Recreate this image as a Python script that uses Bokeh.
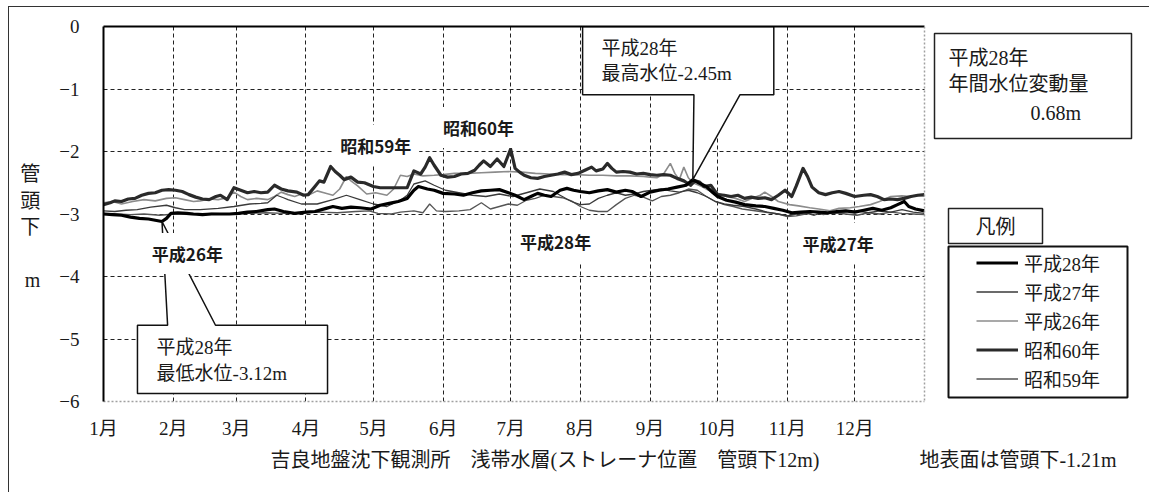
from bokeh.plotting import figure
from bokeh.models import (Label, BoxAnnotation, Span, FixedTicker, Legend,
                          LegendItem, Range1d, LinearAxis, Title)
from bokeh.embed import file_html
from bokeh.resources import INLINE

# ---------------- data ----------------
MONTH_START_DAYS = [0, 31, 59, 90, 120, 151, 181, 212, 243, 273, 304, 334]
MONTH_LABELS = ["1月", "2月", "3月", "4月", "5月", "6月", "7月", "8月",
                "9月", "10月", "11月", "12月"]
DEPTH_TICKS = [0, -1, -2, -3, -4, -5, -6]
DEPTH_TICK_LABELS = ["0", "−1", "−2", "−3", "−4", "−5", "−6"]
YEAR_DAYS = 365

# 平成28年
H28_DAYS = [0, 4, 8, 12, 16, 20, 23, 26, 28, 30,
            33, 37, 40, 44, 48, 52, 56, 60, 64, 68,
            73, 76, 80, 85, 90, 94, 99, 102, 106, 110,
            114, 119, 123, 127, 131, 135, 138, 140, 144, 147,
            151, 156, 160, 164, 168, 172, 176, 180, 183, 187,
            190, 193, 196, 199, 203, 206, 209, 212, 216, 220,
            224, 228, 232, 235, 239, 243, 247, 251, 255, 259,
            262, 265, 268, 271, 273, 277, 281, 285, 290, 294,
            298, 302, 306, 310, 314, 318, 322, 326, 330, 334,
            338, 342, 346, 350, 353, 356, 358, 361, 365]
H28_LEVEL = [-3.00, -3.01, -3.02, -3.05, -3.07, -3.08, -3.10, -3.12, -3.07, -2.99,
             -2.98, -2.99, -3.00, -3.01, -3.00, -3.00, -3.00, -2.99, -2.97, -2.96,
             -2.93, -2.92, -2.96, -2.99, -2.97, -2.96, -2.91, -2.88, -2.91, -2.89,
             -2.90, -2.92, -2.86, -2.83, -2.80, -2.75, -2.62, -2.56, -2.60, -2.62,
             -2.67, -2.68, -2.70, -2.66, -2.63, -2.62, -2.61, -2.66, -2.70, -2.77,
             -2.72, -2.67, -2.70, -2.72, -2.62, -2.59, -2.62, -2.64, -2.66, -2.63,
             -2.61, -2.65, -2.62, -2.64, -2.72, -2.65, -2.62, -2.60, -2.57, -2.54,
             -2.45, -2.51, -2.56, -2.66, -2.72, -2.78, -2.81, -2.85, -2.87, -2.88,
             -2.91, -2.94, -2.98, -2.97, -2.96, -2.97, -2.98, -2.96, -2.95, -2.97,
             -2.94, -2.91, -2.94, -2.90, -2.85, -2.80, -2.88, -2.92, -2.95]

# 平成27年
H27_DAYS = [0, 5, 10, 15, 21, 28, 32, 36, 43, 51,
            58, 65, 70, 73, 77, 80, 82, 88, 95, 102,
            108, 114, 120, 126, 132, 135, 138, 143, 147, 152,
            158, 164, 170, 176, 182, 188, 194, 200, 204, 208,
            212, 216, 220, 224, 228, 232, 236, 240, 244, 248,
            252, 256, 260, 264, 268, 272, 276, 280, 285, 290,
            295, 300, 304, 308, 312, 316, 320, 325, 330, 335,
            340, 345, 350, 355, 360, 365]
H27_LEVEL = [-2.95, -2.96, -2.94, -2.93, -2.89, -2.86, -2.90, -2.93, -2.93, -2.91,
             -2.88, -2.84, -2.83, -2.82, -2.70, -2.74, -2.77, -2.84, -2.84, -2.77,
             -2.70, -2.77, -2.84, -2.88, -2.78, -2.70, -2.52, -2.47, -2.54, -2.62,
             -2.66, -2.70, -2.72, -2.68, -2.72, -2.66, -2.60, -2.64, -2.72, -2.80,
             -2.85, -2.84, -2.75, -2.70, -2.66, -2.70, -2.68, -2.64, -2.62, -2.60,
             -2.63, -2.65, -2.62, -2.66, -2.72, -2.80, -2.84, -2.86, -2.88, -2.92,
             -2.97, -3.00, -3.03, -3.00, -2.98, -3.02, -2.97, -2.99, -2.96, -2.95,
             -2.98, -2.95, -2.97, -2.93, -2.97, -2.99]

# 平成26年
H26_DAYS = [0, 4, 8, 13, 18, 23, 28, 32, 36, 40,
            43, 47, 51, 55, 58, 61, 64, 68, 73, 76,
            79, 82, 85, 88, 91, 95, 98, 102, 105, 108,
            110, 113, 117, 121, 126, 129, 132, 135, 138, 142,
            147, 151, 156, 162, 168, 174, 180, 186, 192, 198,
            204, 210, 216, 222, 228, 234, 240, 243, 246, 249,
            252, 254, 256, 258, 260, 262, 266, 270, 274, 277,
            281, 285, 289, 292, 294, 297, 300, 305, 309, 314,
            318, 323, 327, 332, 336, 341, 345, 350, 355, 359,
            362, 365]
H26_LEVEL = [-2.82, -2.80, -2.84, -2.80, -2.77, -2.79, -2.75, -2.74, -2.77, -2.80,
             -2.79, -2.76, -2.77, -2.74, -2.65, -2.72, -2.77, -2.75, -2.77, -2.72,
             -2.65, -2.69, -2.72, -2.68, -2.70, -2.63, -2.66, -2.70, -2.60, -2.40,
             -2.47, -2.55, -2.68, -2.66, -2.70, -2.60, -2.38, -2.40, -2.36, -2.39,
             -2.38, -2.37, -2.35, -2.35, -2.34, -2.33, -2.32, -2.33, -2.35, -2.36,
             -2.37, -2.37, -2.38, -2.38, -2.39, -2.39, -2.40, -2.41, -2.42, -2.36,
             -2.19, -2.35, -2.45, -2.25, -2.42, -2.50, -2.56, -2.64, -2.68, -2.72,
             -2.75, -2.80, -2.74, -2.70, -2.65, -2.72, -2.80, -2.85, -2.87, -2.90,
             -2.92, -2.95, -2.91, -2.90, -2.88, -2.85, -2.80, -2.72, -2.71, -2.72,
             -2.70, -2.71]

# 昭和60年
S60_DAYS = [0, 3, 5, 8, 11, 14, 17, 20, 23, 26,
            29, 32, 35, 38, 41, 44, 47, 50, 52, 55,
            58, 61, 64, 67, 70, 73, 76, 79, 82, 86,
            89, 91, 94, 96, 98, 101, 103, 105, 107, 110,
            113, 116, 120, 123, 135, 138, 141, 143, 145, 147,
            150, 153, 156, 159, 162, 165, 167, 169, 172, 175,
            178, 181, 183, 185, 187, 190, 193, 196, 199, 202,
            205, 208, 211, 214, 217, 219, 222, 224, 226, 228,
            231, 234, 237, 240, 243, 246, 249, 252, 255, 258,
            261, 263, 265, 267, 270, 273, 276, 279, 282, 285,
            288, 291, 294, 297, 300, 303, 306, 308, 311, 313,
            315, 318, 321, 324, 327, 330, 334, 338, 341, 344,
            347, 350, 353, 356, 359, 362, 365]
S60_LEVEL = [-2.85, -2.82, -2.79, -2.80, -2.76, -2.75, -2.70, -2.67, -2.66, -2.62,
             -2.61, -2.62, -2.64, -2.69, -2.73, -2.76, -2.77, -2.72, -2.70, -2.77,
             -2.58, -2.62, -2.66, -2.64, -2.66, -2.65, -2.54, -2.60, -2.63, -2.65,
             -2.70, -2.69, -2.56, -2.47, -2.49, -2.24, -2.32, -2.38, -2.45, -2.41,
             -2.49, -2.50, -2.56, -2.58, -2.58, -2.31, -2.36, -2.25, -2.10, -2.22,
             -2.38, -2.41, -2.40, -2.36, -2.35, -2.30, -2.22, -2.15, -2.24, -2.12,
             -2.24, -1.96, -2.27, -2.33, -2.38, -2.42, -2.43, -2.40, -2.38, -2.36,
             -2.33, -2.37, -2.35, -2.30, -2.25, -2.31, -2.28, -2.19, -2.27, -2.33,
             -2.32, -2.33, -2.36, -2.35, -2.37, -2.38, -2.37, -2.38, -2.43, -2.47,
             -2.54, -2.47, -2.49, -2.56, -2.54, -2.69, -2.70, -2.72, -2.70, -2.75,
             -2.73, -2.75, -2.74, -2.77, -2.70, -2.62, -2.72, -2.55, -2.27, -2.40,
             -2.57, -2.66, -2.69, -2.66, -2.64, -2.67, -2.72, -2.70, -2.69, -2.72,
             -2.77, -2.76, -2.77, -2.75, -2.72, -2.70, -2.69]

# 昭和59年
S59_DAYS = [0, 6, 12, 18, 25, 32, 40, 48, 56, 64,
            72, 80, 88, 96, 104, 112, 118, 122, 128, 132,
            138, 142, 145, 148, 152, 158, 163, 168, 172, 176,
            180, 184, 188, 192, 196, 200, 204, 208, 212, 216,
            220, 224, 228, 232, 236, 240, 244, 248, 252, 256,
            260, 264, 268, 272, 276, 280, 284, 288, 292, 296,
            300, 304, 308, 312, 316, 320, 325, 330, 335, 340,
            345, 350, 355, 360, 365]
S59_LEVEL = [-2.99, -3.00, -3.01, -3.00, -3.02, -3.00, -3.01, -2.99, -3.00, -2.99,
             -2.98, -2.99, -2.98, -2.97, -2.98, -2.96, -2.95, -2.99, -3.00, -2.97,
             -2.95, -2.98, -2.84, -2.95, -2.96, -2.95, -2.93, -2.82, -2.92, -2.88,
             -2.84, -2.86, -2.78, -2.75, -2.70, -2.72, -2.74, -2.79, -2.88, -2.94,
             -2.96, -2.96, -2.85, -2.75, -2.70, -2.73, -2.79, -2.72, -2.70, -2.66,
             -2.60, -2.62, -2.72, -2.80, -2.85, -2.88, -2.92, -2.94, -2.96, -2.98,
             -3.00, -3.04, -3.03, -3.00, -2.97, -3.01, -2.98, -3.00, -3.02, -2.98,
             -3.00, -2.97, -2.99, -3.00, -3.01]

# 平成28年 extremes (callouts)
MAX_DAY, MAX_LEVEL = 262, -2.45
MIN_DAY, MIN_LEVEL = 26, -3.12

SERIF = "Liberation Serif, Noto Sans CJK JP"
GOTHIC = "Noto Sans CJK JP"
TXT = "#1a1a1a"

# ---------------- layout (pixels) ----------------
FIG_W, FIG_H = 1141, 486
BORDER_L, BORDER_T, BORDER_B = 94, 19, 92
PLOT_W = 821                       # width of the Jan..Dec plotting area
FRAME_W = FIG_W - BORDER_L         # frame extends over the right-hand panel
X_END = YEAR_DAYS * FRAME_W / PLOT_W

p = figure(width=FIG_W, height=FIG_H, output_backend="svg", toolbar_location=None,
           x_range=Range1d(0, X_END), y_range=Range1d(-6, 0),
           min_border_left=BORDER_L, min_border_right=0,
           min_border_top=BORDER_T, min_border_bottom=BORDER_B,
           background_fill_color="white", border_fill_color="white")
p.styles = {"margin-left": "8px", "margin-top": "6px",
            "border-left": "1.5px solid #333", "border-top": "1.5px solid #333"}
p.outline_line_color = None

p.xgrid.ticker = FixedTicker(ticks=MONTH_START_DAYS[1:])
p.ygrid.ticker = FixedTicker(ticks=DEPTH_TICKS[1:-1])
for g in (p.xgrid, p.ygrid):
    g.grid_line_color = "#222222"
    g.grid_line_dash = "4 3"
    g.grid_line_width = 1

p.xaxis.ticker = FixedTicker(ticks=MONTH_START_DAYS)
p.xaxis.major_label_overrides = dict(zip(MONTH_START_DAYS, MONTH_LABELS))
p.xaxis.bounds = (0, YEAR_DAYS)
p.yaxis.ticker = FixedTicker(ticks=DEPTH_TICKS)
p.yaxis.major_label_overrides = dict(zip(DEPTH_TICKS, DEPTH_TICK_LABELS))
for ax in (p.xaxis, p.yaxis):
    ax.major_tick_line_color = None
    ax.minor_tick_line_color = None
    ax.major_tick_out = 0
    ax.major_tick_in = 0
    ax.major_label_text_font = SERIF
    ax.major_label_text_font_size = "19px"
    ax.major_label_text_color = TXT
p.xaxis.major_label_standoff = 16
p.yaxis.major_label_standoff = 24
p.xaxis.axis_line_color = "#a0a0a0"
p.xaxis.axis_line_dash = "2 2"
p.xaxis.axis_line_width = 1.5
p.yaxis.axis_line_color = "black"
p.yaxis.axis_line_width = 2

p.yaxis.axis_label = "\n管\n頭\n下\n\nm"
p.yaxis.axis_label_orientation = "horizontal"
p.yaxis.axis_label_text_font = SERIF
p.yaxis.axis_label_text_font_size = "20px"
p.yaxis.axis_label_text_font_style = "normal"
p.yaxis.axis_label_text_color = TXT
p.yaxis.axis_label_standoff = 16

# top edge of the plotting area
top_axis = LinearAxis(bounds=(0, YEAR_DAYS), axis_line_color="black",
                      axis_line_width=2, major_tick_line_color=None,
                      minor_tick_line_color=None, major_label_text_font_size="0px",
                      major_label_standoff=0, major_tick_out=0)
top_axis.ticker = FixedTicker(ticks=[])
p.add_layout(top_axis, "above")

# caption below
p.add_layout(Title(text="吉良地盤沈下観測所　浅帯水層(ストレーナ位置　管頭下12m)　　　　　地表面は管頭下-1.21m",
                   align="left", offset=167, text_font=SERIF, text_font_size="20px",
                   text_font_style="normal", text_color=TXT, standoff=10), "below")

# ---------------- series ----------------
r_s59 = p.line(S59_DAYS, S59_LEVEL, line_color="#555555", line_width=1.3)
r_h26 = p.line(H26_DAYS, H26_LEVEL, line_color="#8c8c8c", line_width=1.6)
r_h27 = p.line(H27_DAYS, H27_LEVEL, line_color="#3a3a3a", line_width=1.3)
r_s60 = p.line(S60_DAYS, S60_LEVEL, line_color="#2a2a2a", line_width=3.2,
               line_join="round")
r_h28 = p.line(H28_DAYS, H28_LEVEL, line_color="#000000", line_width=3.2,
               line_join="round")

# ---------------- callouts ----------------
TOP_BOX_X = (213, 298)
TOP_BOX_Y = (0, -1.09)
TOP_BASES = (262.5, 283)
p.patch([TOP_BOX_X[0], TOP_BOX_X[1], TOP_BOX_X[1], TOP_BASES[1], MAX_DAY,
         TOP_BASES[0], TOP_BOX_X[0]],
        [TOP_BOX_Y[0], TOP_BOX_Y[0], TOP_BOX_Y[1], TOP_BOX_Y[1], MAX_LEVEL,
         TOP_BOX_Y[1], TOP_BOX_Y[1]],
        fill_color="white", line_color="#111111", line_width=1.5)

BOT_BOX_X = (15.1, 99.6)
BOT_BOX_Y = (-4.78, -5.87)
BOT_BASES = (28.5, 49.8)
p.patch([BOT_BOX_X[0], BOT_BASES[0], MIN_DAY, BOT_BASES[1], BOT_BOX_X[1],
         BOT_BOX_X[1], BOT_BOX_X[0]],
        [BOT_BOX_Y[0], BOT_BOX_Y[0], MIN_LEVEL, BOT_BOX_Y[0], BOT_BOX_Y[0],
         BOT_BOX_Y[1], BOT_BOX_Y[1]],
        fill_color="white", line_color="#111111", line_width=1.5)


def lab(x, y, text, units="screen", font=SERIF, size="19px", align="left",
        **kw):
    p.add_layout(Label(x=x, y=y, x_units=units, y_units=units, text=text,
                       text_font=font, text_font_size=size, text_align=align,
                       text_baseline="middle", text_color=TXT, **kw))


# mask grid lines to the right of the plotting area
p.add_layout(BoxAnnotation(left=YEAR_DAYS, fill_color="white", fill_alpha=1,
                           line_color=None))
p.add_layout(Span(location=YEAR_DAYS, dimension="height", line_color="#a0a0a0",
                  line_dash="2 2", line_width=1.5))

lab(221.4, -0.352, "平成28年", units="data")
lab(221.4, -0.752, "最高水位-2.45m", units="data")
lab(23.6, -5.136, "平成28年", units="data")
lab(23.6, -5.552, "最低水位-3.12m", units="data")

# year labels inside plot (white background breaks grid)
for x, y, t in [(121, -1.904, "昭和59年"), (166.7, -1.616, "昭和60年"),
                (37.3, -3.632, "平成26年"), (201, -3.44, "平成28年"),
                (326.6, -3.472, "平成27年")]:
    lab(x, y, t, units="data", font=GOTHIC, size="17px", align="center",
        text_font_style="bold", background_fill_color="white", padding=8)

# info box
SCR = dict(left_units="screen", right_units="screen", top_units="screen",
           bottom_units="screen", fill_color=None, line_alpha=1)
p.add_layout(BoxAnnotation(left=831, right=1028, bottom=263, top=368,
                           line_color="#222222", line_width=1.5, **SCR))
lab(845, 344, "平成28年", size="20px")
lab(845, 318, "年間水位変動量", size="20px")
lab(927, 289, "0.68m", size="20px")

# legend title box
p.add_layout(BoxAnnotation(left=845, right=939, bottom=158, top=193,
                           line_color="#222222", line_width=1.5, **SCR))
lab(892, 175, "凡例", size="20px", align="center")

# legend box
p.add_layout(BoxAnnotation(left=845, right=1024, bottom=4, top=155,
                           line_color="#111111", line_width=2, **SCR))

legend = Legend(items=[LegendItem(label="平成28年", renderers=[r_h28]),
                       LegendItem(label="平成27年", renderers=[r_h27]),
                       LegendItem(label="平成26年", renderers=[r_h26]),
                       LegendItem(label="昭和60年", renderers=[r_s60]),
                       LegendItem(label="昭和59年", renderers=[r_s59])],
                location=(873, 9), orientation="vertical",
                glyph_width=42, glyph_height=21, label_height=21,
                label_standoff=6, spacing=2, padding=0, margin=0,
                border_line_alpha=0, background_fill_alpha=0,
                label_text_font=SERIF, label_text_font_size="19px",
                label_text_color=TXT)
p.add_layout(legend)

open("out.html", "w").write(file_html(p, INLINE))
